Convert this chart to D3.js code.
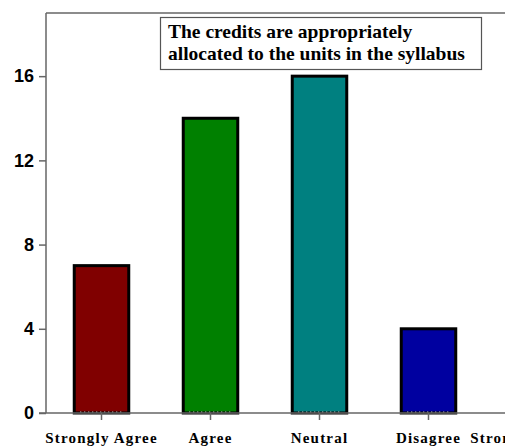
<!DOCTYPE html>
<html><head><meta charset="utf-8">
<script src="https://cdnjs.cloudflare.com/ajax/libs/d3/7.8.5/d3.min.js"></script>
<style>body{margin:0;background:#fff;overflow:hidden}</style>
</head><body>
<script>
const categories = ["Strongly Agree","Agree","Neutral","Disagree","Strongly Disagree"];
const values = [7,14,16,4,0];
const colors = ["#800000","#008000","#008080","#0000a0","#800080"];
const yTicks = [0,4,8,12,16];
const titleLines = ["The credits are appropriately","allocated to the units in the syllabus"];

(function(){
const W=505,H=447;
const svg=d3.select("body").append("svg").attr("width",W).attr("height",H);
const mLeft=46, mTop=13, mBottom=413;
const x=d3.scaleBand().domain(categories).range([mLeft+1,mLeft+1+109*5]).paddingInner(0.5).paddingOuter(0.25);
const y=d3.scaleLinear().domain([0,19]).range([mBottom,mTop]);

svg.append("line").attr("x1",mLeft).attr("x2",W).attr("y1",mTop).attr("y2",mTop).attr("stroke","#666").attr("stroke-width",1.5);

const shown=categories.filter((c,i)=>values[i]>0);
svg.selectAll("rect.bar").data(shown).enter().append("rect")
 .attr("x",d=>x(d)).attr("width",x.bandwidth())
 .attr("y",d=>y(values[categories.indexOf(d)]))
 .attr("height",d=>y(0)-y(values[categories.indexOf(d)]))
 .attr("fill",d=>colors[categories.indexOf(d)])
 .attr("stroke","#000").attr("stroke-width",3);
svg.selectAll("line.dots").data(shown).enter().append("line")
 .attr("x1",d=>x(d)+6).attr("x2",d=>x(d)+x.bandwidth()-6).attr("y1",y(0)-1).attr("y2",y(0)-1)
 .attr("stroke","#fff").attr("stroke-width",1).attr("stroke-dasharray","1,3");

const ya=svg.append("g").attr("transform",`translate(${mLeft},0)`)
 .call(d3.axisLeft(y).tickValues(yTicks).tickSize(7).tickPadding(5).tickSizeOuter(0));
ya.select(".domain").attr("d",`M0,${mTop}V${mBottom}`).attr("stroke","#666").attr("stroke-width",1.5);
ya.selectAll(".tick line").attr("stroke","#666").attr("stroke-width",1.5);
ya.selectAll(".tick text").attr("font-family","Liberation Sans, Arial, sans-serif").attr("font-weight","bold").attr("font-size",18).attr("fill","#000");

const xa=svg.append("g").attr("transform",`translate(0,${mBottom})`)
 .call(d3.axisBottom(x).tickSize(7).tickPadding(12).tickSizeOuter(0));
xa.select(".domain").attr("d",`M${mLeft-7},0H${W}`).attr("stroke","#666").attr("stroke-width",1.5);
xa.selectAll(".tick line").attr("stroke","#666").attr("stroke-width",1.5);
xa.selectAll(".tick text").attr("font-family","Liberation Serif, 'Times New Roman', serif").attr("font-weight","bold").attr("font-size",15).attr("letter-spacing","1.2px").attr("fill","#000");

svg.append("rect").attr("x",160.5).attr("y",17.5).attr("width",321).attr("height",52).attr("fill","#fff").attr("stroke","#555").attr("stroke-width",1.2);
svg.selectAll("text.title").data(titleLines).enter().append("text")
 .attr("x",168).attr("y",(d,i)=>38+i*22).text(d=>d)
 .attr("font-family","Liberation Serif, 'Times New Roman', serif").attr("font-weight","bold").attr("font-size",19.5).attr("fill","#000");
})();
</script>
</body></html>
